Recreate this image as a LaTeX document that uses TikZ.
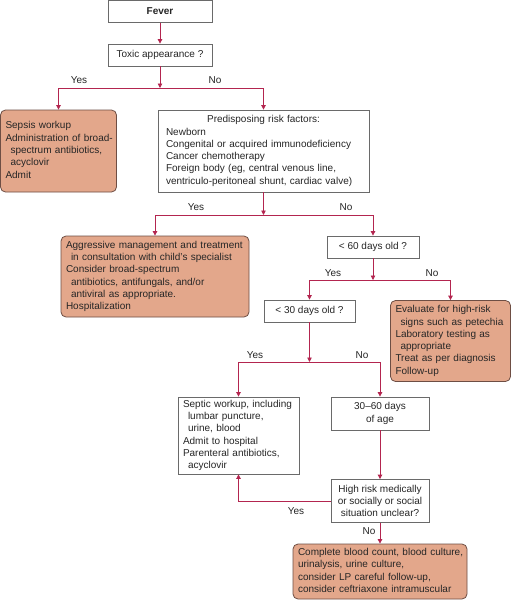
\documentclass[tikz,border=0pt]{standalone}
\usepackage{fontspec}
\setmainfont{Liberation Sans}
\usetikzlibrary{arrows.meta}
\definecolor{lred}{HTML}{B3254F}
\definecolor{salmon}{HTML}{E3A78B}
\definecolor{obord}{HTML}{6E4E44}
\definecolor{boxgray}{HTML}{6A6A6A}
\definecolor{txt}{HTML}{262626}
\newcommand{\fsz}{\fontsize{10pt}{12.3pt}\selectfont}
\newcommand{\ind}{\hspace*{5pt}}
\newcommand{\blk}[1]{\begin{tabular}{@{}l@{}}#1\end{tabular}}
\tikzset{
  base/.style={draw=boxgray, line width=0.8pt, font=\fsz, text=txt, inner ysep=0pt},
  wbox/.style={base, fill=white},
  obox/.style={base, fill=salmon, draw=obord, rounded corners=5pt},
  ctr/.style={align=center, inner xsep=0pt},
  lft/.style={align=left, inner xsep=5pt},
  ln/.style={draw=lred, line width=0.8pt},
  arr/.style={draw=lred, line width=0.8pt, -{Triangle[width=4.5pt,length=4.5pt]}},
  lab/.style={font=\fsz, text=txt, inner sep=0pt}
}
\begin{document}
\begin{tikzpicture}[x=1pt,y=-1pt]
\useasboundingbox (0,0) rectangle (512,600);
\fill[white] (0,0) rectangle (512,600);

\node[wbox,ctr,minimum width=104pt,minimum height=22pt] (fever) at (160,11.5) {\textbf{Fever}};
\node[wbox,ctr,minimum width=104pt,minimum height=22pt] (tox) at (160,55) {Toxic appearance ?};
\coordinate (j1) at (160,88);

\node[obox,lft,text width=106pt,minimum height=82pt] (sepsis) at (58.5,151) {\blk{Sepsis workup\\Administration of broad-\\\ind spectrum antibiotics,\\\ind acyclovir\\Admit}};
\node[wbox,align=left,inner xsep=8pt,text width=195pt,minimum height=82pt] (pred) at (263.5,151) {\blk{\makebox[195pt]{Predisposing risk factors:}\\Newborn\\Congenital or acquired immunodeficiency\\Cancer chemotherapy\\Foreign body (eg, central venous line,\\ventriculo-peritoneal shunt, cardiac valve)}};
\coordinate (j2) at (263.5,215);

\node[obox,lft,text width=178pt,minimum height=81pt] (aggr) at (155,276.5) {\blk{Aggressive management and treatment\\\ind in consultation with child’s specialist\\Consider broad-spectrum\\\ind antibiotics, antifungals, and/or\\\ind antiviral as appropriate.\\Hospitalization}};
\node[wbox,ctr,minimum width=92pt,minimum height=22pt] (lt60) at (373,247) {\textless{} 60 days old ?};
\coordinate (j3) at (373,280);

\node[wbox,ctr,minimum width=91pt,minimum height=22pt] (lt30) at (309.5,311) {\textless{} 30 days old ?};
\node[obox,lft,text width=110pt,minimum height=81pt] (eval) at (450.5,341) {\blk{Evaluate for high-risk\\\ind signs such as petechia\\Laboratory testing as\\\ind appropriate\\Treat as per diagnosis\\Follow-up}};
\coordinate (j4) at (309.5,362);

\node[wbox,lft,text width=111pt,minimum height=77pt] (septic) at (238.5,435.5) {\blk{Septic workup, including\\\ind lumbar puncture,\\\ind urine, blood\\Admit to hospital\\Parenteral antibiotics,\\\ind acyclovir}};
\node[wbox,ctr,minimum width=98pt,minimum height=33pt] (d3060) at (380,413.5) {30–60 days\\of age};
\node[wbox,ctr,minimum width=98pt,minimum height=43pt] (hr) at (380,501) {High risk medically\\or socially or social\\situation unclear?};
\node[obox,lft,text width=164pt,minimum height=55pt] (cbc) at (380,571.5) {\blk{Complete blood count, blood culture,\\urinalysis, urine culture,\\consider LP careful follow-up,\\consider ceftriaxone intramuscular}};

% connectors
\draw[arr] (fever) -- (tox);
\draw[arr] (tox) -- (j1);
\draw[arr] (j1) -| (sepsis.north);
\draw[arr] (j1) -| (pred.north);
\draw[arr] (pred) -- (j2);
\draw[arr] (j2) -| (aggr.north);
\draw[arr] (j2) -| (lt60.north);
\draw[arr] (lt60) -- (j3);
\draw[arr] (j3) -| (lt30.north);
\draw[arr] (j3) -| (eval.north);
\draw[arr] (lt30) -- (j4);
\draw[arr] (j4) -| (septic.north);
\draw[arr] (j4) -| (d3060.north);
\draw[arr] (d3060) -- (hr);
\draw[arr] (hr.west) -| (septic.south);
\draw[arr] (hr) -- (cbc);

% labels
\node[lab] (l1) at (79,80) {Yes};
\node[lab] (l2) at (215,80) {No};
\node[lab] (l3) at (196,207) {Yes};
\node[lab] (l4) at (346,207) {No};
\node[lab] (l5) at (333,273) {Yes};
\node[lab] (l6) at (432,273) {No};
\node[lab] (l7) at (255,355) {Yes};
\node[lab] (l8) at (362,355) {No};
\node[lab] (l9) at (296,511) {Yes};
\node[lab] (l10) at (369,531) {No};
\end{tikzpicture}
\end{document}
